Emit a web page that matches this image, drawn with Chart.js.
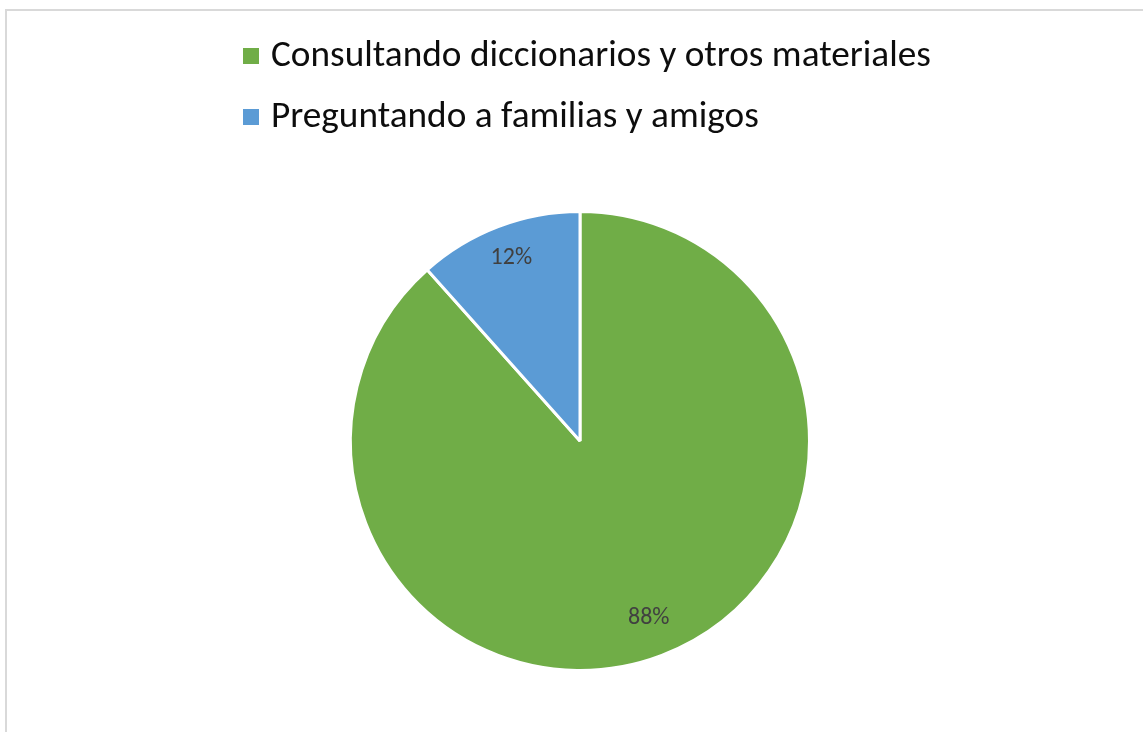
<!DOCTYPE html>
<html>
<head>
<meta charset="utf-8">
<script src="https://cdn.jsdelivr.net/npm/chart.js@4.4.1/dist/chart.umd.min.js"></script>
<style>
    html, body { margin: 0; padding: 0; background: #fff; overflow: hidden; }
    .frame { position: absolute; left: 5px; top: 9px; width: 1200px; height: 800px;
             border-top: 2px solid #d9d9d9; border-left: 2px solid #d9d9d9; }
    .wrap { position: absolute; left: 0; top: 0; width: 1143px; height: 732px; }
</style>
</head>
<body>
<div class="frame"></div>
<div class="wrap"><canvas class="js-chart"></canvas></div>
<script>
const labels = ['Consultando diccionarios y otros materiales', 'Preguntando a familias y amigos'];
const values = [88.4, 11.6];
const colors = ['#70AD47', '#5B9BD5'];

const FONT = 'Carlito, Lato, "Liberation Sans", sans-serif';

// legend drawn on the canvas, items stacked and left aligned like Excel
const stackedLegend = {
    id: 'stackedLegend',
    afterDraw(chart) {
        const c = chart.ctx;
        c.save();
        c.font = '34px ' + FONT;
        const w = c.measureText(labels[0]).width;
        const size = 34 * 660 / w;
        c.font = size + 'px ' + FONT;
        c.textBaseline = 'alphabetic';
        const rows = [{ box: 48, base: 66 }, { box: 109, base: 127 }];
        labels.forEach((text, i) => {
            c.fillStyle = colors[i];
            c.fillRect(243, rows[i].box, 16, 16);
            c.fillStyle = '#0d0d0d';
            c.fillText(text, 271, rows[i].base);
        });
        c.restore();
    }
};

// percentage labels inside the slices
const sliceLabels = {
    id: 'sliceLabels',
    afterDatasetsDraw(chart) {
        const c = chart.ctx;
        const meta = chart.getDatasetMeta(0);
        const total = values.reduce((a, b) => a + b, 0);
        c.save();
        c.font = '24px ' + FONT;
        c.fillStyle = '#404040';
        c.textAlign = 'center';
        c.textBaseline = 'middle';
        meta.data.forEach((arc, i) => {
            const { x, y, startAngle, endAngle, outerRadius } = arc.getProps(['x', 'y', 'startAngle', 'endAngle', 'outerRadius'], true);
            const mid = (startAngle + endAngle) / 2;
            const r = outerRadius * 0.84;
            const pct = Math.round(values[i] / total * 100) + '%';
            c.fillText(pct, x + Math.cos(mid) * r, y + Math.sin(mid) * r - 3);
        });
        c.restore();
    }
};

const ctx = document.querySelector('.js-chart').getContext('2d');

new Chart(ctx, {
    type: 'pie',
    data: {
        labels,
        datasets: [{
            data: values,
            backgroundColor: colors,
            borderColor: '#ffffff',
            borderWidth: 3,
        }]
    },
    options: {
        responsive: true,
        maintainAspectRatio: false,
        animation: false,
        layout: {
            padding: { top: 210, bottom: 60, left: 349, right: 332 }
        },
        plugins: {
            legend: { display: false },
            tooltip: { enabled: false },
        }
    },
    plugins: [sliceLabels, stackedLegend]
});
</script>
</body>
</html>
